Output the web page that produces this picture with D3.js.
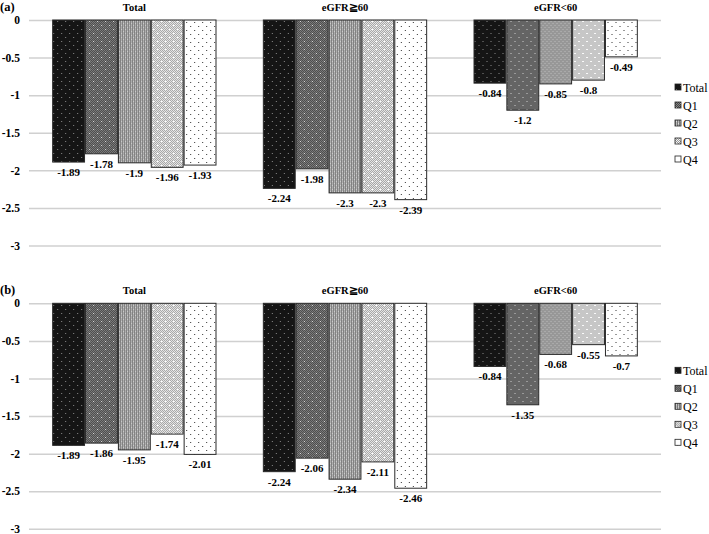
<!DOCTYPE html>
<html><head><meta charset="utf-8">
<script src="https://cdn.jsdelivr.net/npm/d3@7"></script>
<style>body{margin:0;background:#fff}svg{display:block}</style>
</head><body>
<script>
const groups = ["Total", "eGFR≧60", "eGFR<60"];
const series = ["Total", "Q1", "Q2", "Q3", "Q4"];
const valuesA = [
  [-1.89, -1.78, -1.9, -1.96, -1.93],
  [-2.24, -1.98, -2.3, -2.3, -2.39],
  [-0.84, -1.2, -0.85, -0.8, -0.49]
];
const valuesB = [
  [-1.89, -1.86, -1.95, -1.74, -2.01],
  [-2.24, -2.06, -2.34, -2.11, -2.46],
  [-0.84, -1.35, -0.68, -0.55, -0.7]
];
const yTicks = [0, -0.5, -1, -1.5, -2, -2.5, -3];
const panelLabels = ["(a)", "(b)"];

const W = 709, H = 534;
const svg = d3.select("body").append("svg").attr("width", W).attr("height", H);
const defs = svg.append("defs");

function pat(id, size, base, rects) {
  const p = defs.append("pattern").attr("id", id).attr("patternUnits", "userSpaceOnUse")
    .attr("width", size).attr("height", size);
  p.append("rect").attr("width", size).attr("height", size).attr("fill", base);
  rects.forEach(r => p.append("rect").attr("x", r[0]).attr("y", r[1]).attr("width", r[2] || 1).attr("height", r[3] || 1).attr("fill", r[4]));
}
pat("p0", 8, "#151515", [[1,1,1,1,"#8a8a8a"],[5,5,1,1,"#8a8a8a"]]);
(function(){
  const r = [];
  for (let i=0;i<8;i++) for (let j=0;j<8;j++) if ((i+j)%2===0) r.push([i,j,1,1,"#858585"]);
  r.push([1,1,1,1,"#eeeeee"],[5,5,1,1,"#eeeeee"]);
  pat("p1", 8, "#444444", r);
})();
(function(){
  const r = [];
  for (let i=0;i<4;i+=2) r.push([i,0,1,4,"#777777"]);
  r.push([1,1,1,1,"#dcdcdc"],[3,3,1,1,"#dcdcdc"]);
  pat("p2", 4, "#b8b8b8", r);
})();
(function(){
  const r = [];
  for (let i=0;i<8;i++) for (let j=0;j<8;j++) if ((i+j)%2===0) r.push([i,j,1,1,"#999999"]);
  r.push([1,1,1,1,"#ffffff"],[5,5,1,1,"#ffffff"]);
  pat("p3", 8, "#f4f4f4", r);
})();
pat("p4", 8, "#ffffff", [[2,2,1,1,"#333"],[6,6,1,1,"#333"]]);

const x0 = d3.scaleBand().domain(groups).range([29, 661]).paddingInner(0.22).paddingOuter(0.11);
const x1 = d3.scaleBand().domain(series).range([0, x0.bandwidth()]);

const serif = "'Liberation Serif','Times New Roman',serif";
const fmt = d => String(d);

function panel(top, vals, label) {
  const y = d3.scaleLinear().domain([0, -3]).range([top, top + 225.5]);
  const g = svg.append("g");
  const axis = d3.axisLeft(y).tickValues(yTicks).tickSize(-(661 - 29)).tickFormat(fmt).tickPadding(8);
  const ag = g.append("g").attr("transform", "translate(29,0)").call(axis);
  ag.select(".domain").remove();
  ag.selectAll(".tick line").attr("stroke", "#d0d0d0").attr("stroke-width", 1.5);
  ag.selectAll(".tick text").attr("font-family", serif).attr("font-weight", "bold").attr("font-size", 11.5).attr("fill", "#000").attr("x", -9);
  g.append("text").attr("x", 0).attr("y", top - 9).text(label)
    .attr("font-family", serif).attr("font-weight", "bold").attr("font-size", 12.5);
  g.selectAll(".gt").data(groups).join("text")
    .attr("x", d => x0(d) + x0.bandwidth() / 2).attr("y", top - 9)
    .attr("text-anchor", "middle").attr("font-family", serif).attr("font-weight", "bold").attr("font-size", 10.5)
    .text(d => d);
  groups.forEach((gr, gi) => {
    const gg = g.append("g").attr("transform", `translate(${x0(gr)},0)`);
    gg.selectAll("rect").data(vals[gi]).join("rect")
      .attr("x", (d, i) => x1(series[i]) + 0.5)
      .attr("y", y(0))
      .attr("width", x1.bandwidth() - 1)
      .attr("height", d => y(d) - y(0))
      .attr("fill", (d, i) => `url(#p${i})`)
      .attr("stroke", "#2a2a2a").attr("stroke-width", 1);
    gg.selectAll("text").data(vals[gi]).join("text")
      .attr("x", (d, i) => x1(series[i]) + x1.bandwidth() / 2)
      .attr("y", d => y(d) + 14)
      .attr("text-anchor", "middle").attr("font-family", serif).attr("font-weight", "bold").attr("font-size", 11)
      .text(fmt);
  });
  const lg = g.append("g").attr("transform", `translate(675,${top + 68})`);
  series.forEach((s, i) => {
    const row = lg.append("g").attr("transform", `translate(0,${i * 18})`);
    row.append("rect").attr("x", 0).attr("y", -4).attr("width", 6).attr("height", 6)
      .attr("fill", `url(#p${i})`).attr("stroke", "#222").attr("stroke-width", 0.8);
    row.append("text").attr("x", 8).attr("y", 3.5).text(s)
      .attr("font-family", serif).attr("font-size", 12);
  });
}
panel(20, valuesA, panelLabels[0]);
panel(303.3, valuesB, panelLabels[1]);
</script>
</body></html>
